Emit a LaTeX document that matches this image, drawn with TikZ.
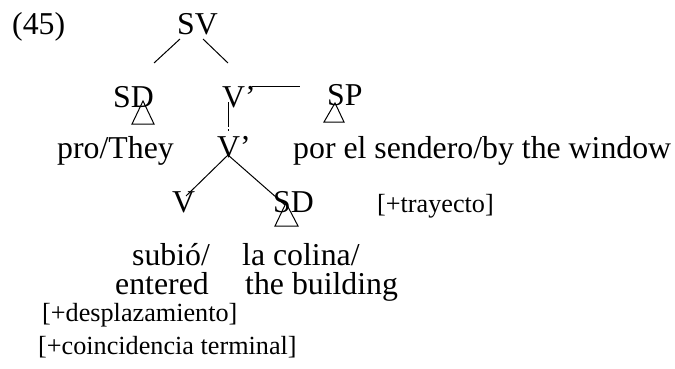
\documentclass[tikz,border=0pt]{standalone}
\usepackage{fontspec}
\setmainfont{Liberation Serif}
\begin{document}
\begin{tikzpicture}[x=1pt,y=-1pt,
  lbl/.style={anchor=base west,inner sep=0pt,font=\fontsize{31.8}{36}\selectfont},
  sml/.style={anchor=base west,inner sep=0pt,font=\fontsize{26.2}{30}\selectfont},
  edge/.style={line width=1pt,line cap=butt},
  tri/.style={line width=1pt,line join=miter}]
\useasboundingbox (0,0) rectangle (675,369);
\node[lbl] (n45) at (12,35) {(45)};
\node[lbl] (SV) at (177,35) {SV};
\node[lbl] (SDa) at (113,107) {SD};
\node[lbl] (Va) at (222,107) {V’};
\node[lbl] (SP) at (327,106) {SP};
\node[lbl] (pro) at (57,158) {pro/They};
\node[lbl] (Vb) at (217,157) {V’};
\node[lbl] (por) at (293,158) {por el sendero/by the window};
\node[lbl] (V) at (172,212) {V};
\node[lbl] (SDb) at (273,212) {SD};
\node[sml] (tray) at (377,212) {[+trayecto]};
\node[lbl] (subio) at (132,265) {subió/};
\node[lbl] (colina) at (242,265) {la colina/};
\node[lbl] (entered) at (115,294) {entered};
\node[lbl] (building) at (245,294) {the building};
\node[sml] (despl) at (42,321) {[+desplazamiento]};
\node[sml] (coinc) at (38,354) {[+coincidencia terminal]};
% connectors
\draw[edge] ([shift={(3,4)}]SV.base west) -- ([shift={(41,-44)}]SDa.base west);
\draw[edge] ([shift={(26,4)}]SV.base west) -- ([shift={(6,-44)}]Va.base west);
\draw[edge] ([shift={(30,-20)}]Va.base west) -- ([shift={(-27,-19)}]SP.base west);
\draw[edge] ([shift={(6,-5)}]Va.base west) -- ([shift={(11,-30)}]Vb.base west);
\draw[edge] ([shift={(11,-28)}]Vb.base west) -- ([shift={(11,-26)}]Vb.base west);
\draw[edge] ([shift={(11,-2)}]Vb.base west) -- ([shift={(14,-16)}]V.base west);
\draw[edge] ([shift={(11,-2)}]Vb.base west) -- ([shift={(12,-7)}]SDb.base west);
% triangles
\draw[tri] ([shift={(30,-6)}]SDa.base west) -- ([shift={(19,17)}]SDa.base west) -- ([shift={(41,17)}]SDa.base west) -- cycle;
\draw[tri] ([shift={(8,-3)}]SP.base west) -- ([shift={(-3,16)}]SP.base west) -- ([shift={(17,16)}]SP.base west) -- cycle;
\draw[tri] ([shift={(13,-9)}]SDb.base west) -- ([shift={(2,14)}]SDb.base west) -- ([shift={(25,14)}]SDb.base west) -- cycle;
\end{tikzpicture}
\end{document}
